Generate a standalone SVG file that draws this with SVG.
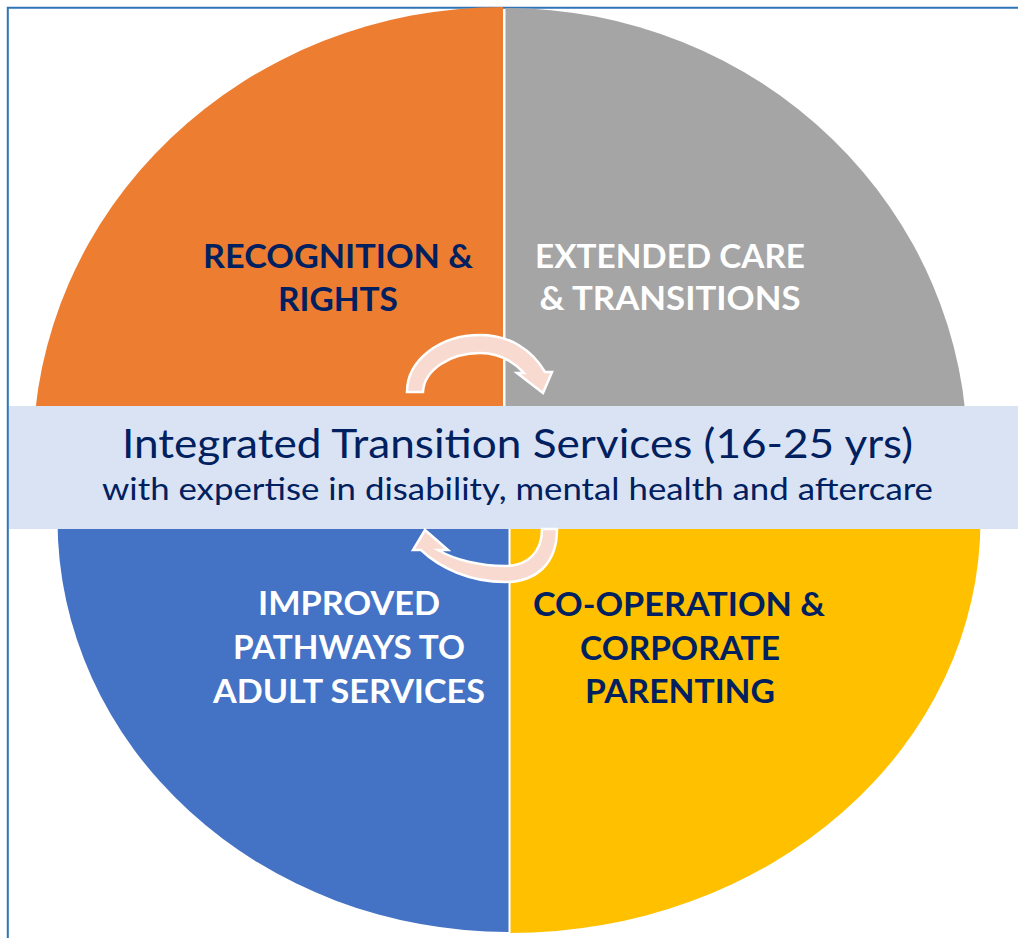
<svg xmlns="http://www.w3.org/2000/svg" width="1018" height="938" viewBox="0 0 1018 938">
<style>
.q{font-family:Lato,"Open Sans","Liberation Sans",sans-serif;font-weight:bold;font-size:32.5px;text-anchor:middle}
.navy{fill:#002060}
.white{fill:#FFFFFF}
.band1{font-family:Lato,"Open Sans","Liberation Sans",sans-serif;font-size:41.5px;fill:#002060;text-anchor:middle}
.band2{font-family:Lato,"Open Sans","Liberation Sans",sans-serif;font-size:30.5px;fill:#002060;text-anchor:middle}
.arrow{fill:#F8DAD0;stroke:#FFFFFF;stroke-width:2.5;stroke-linejoin:miter}
</style>
<rect x="0" y="0" width="1018" height="938" fill="#FFFFFF"/>
<g id="frame">
<path d="M7.8 938 V7.8 H1018" fill="none" stroke="#2E75B6" stroke-width="2"/>
</g>
<g id="recognition">
<path d="M503 455 L33 455 A470 448 0 0 1 503 7 Z" fill="#ED7D31"/>
<text class="q navy" x="338" y="268" textLength="270" lengthAdjust="spacingAndGlyphs">RECOGNITION &amp;</text>
<text class="q navy" x="338" y="311" textLength="120" lengthAdjust="spacingAndGlyphs">RIGHTS</text>
</g>
<g id="extended-care">
<path d="M505.5 455 L505.5 8 A462 447 0 0 1 967.5 455 Z" fill="#A5A5A5"/>
<text class="q white" x="670" y="268" textLength="270" lengthAdjust="spacingAndGlyphs">EXTENDED CARE</text>
<text class="q white" x="670" y="310" textLength="261" lengthAdjust="spacingAndGlyphs">&amp; TRANSITIONS</text>
</g>
<g id="pathways">
<path d="M508.5 520 L508.5 932 A451 412 0 0 1 57.5 520 Z" fill="#4472C4"/>
<text class="q white" x="349" y="615" textLength="182" lengthAdjust="spacingAndGlyphs">IMPROVED</text>
<text class="q white" x="349" y="659" textLength="232" lengthAdjust="spacingAndGlyphs">PATHWAYS TO</text>
<text class="q white" x="349" y="703" textLength="272" lengthAdjust="spacingAndGlyphs">ADULT SERVICES</text>
</g>
<g id="cooperation">
<path d="M510.5 520 L980.5 520 A470 413 0 0 1 510.5 933 Z" fill="#FFC000"/>
<text class="q navy" x="679" y="616" textLength="292" lengthAdjust="spacingAndGlyphs">CO-OPERATION &amp;</text>
<text class="q navy" x="680" y="660" textLength="200" lengthAdjust="spacingAndGlyphs">CORPORATE</text>
<text class="q navy" x="680" y="703" textLength="190" lengthAdjust="spacingAndGlyphs">PARENTING</text>
</g>
<g id="integrated-services">
<rect x="9" y="406" width="1009" height="123" fill="#DAE3F3"/>
<text class="band1" x="517.5" y="458" textLength="791" lengthAdjust="spacingAndGlyphs">Integrated Transition Services (16-25 yrs)</text>
<text class="band2" x="517.5" y="500" textLength="831" lengthAdjust="spacingAndGlyphs">with expertise in disability, mental health and aftercare</text>
</g>
<g id="connectors">
<path class="arrow" d="M407 392 C407 360 440 335 480 335 C510 335 532 350 545 372 L552 372 L543 393 L517 373 L524 373 C512 360 498 353 480 353 C450 353 424 370 423 392 Z"/>
<path class="arrow" d="M557 529 C557 565 535 582 505 582 C470 582 440 568 421 550 L413 550 L425 530 L448 550 L438 550 C455 560 480 566 505 566 C528 566 542 552 542 529 Z"/>
</g>
</svg>
